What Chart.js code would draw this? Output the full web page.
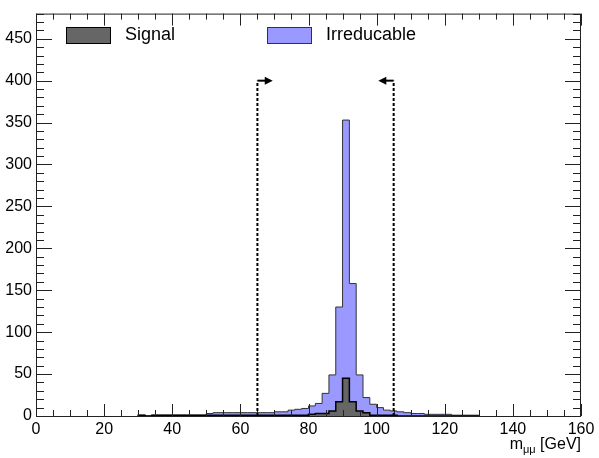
<!DOCTYPE html>
<html>
<head>
<meta charset="utf-8">
<script src="https://cdn.jsdelivr.net/npm/chart.js@4"></script>
<style>
  html, body { margin: 0; padding: 0; background: #fff; }
</style>
</head>
<body>
<canvas id="mass-chart" width="599" height="458"></canvas>
<script>
// Histogram binning: 2 GeV bins from 30 to 130 GeV
const binStart = 30;
const binWidth = 2;

// Counts per bin
const signalCounts = [
  1, 0, 1, 1, 1, 1, 1, 1, 1, 1,
  1, 1, 1, 1, 1, 1, 1, 1, 1, 1,
  1, 1, 1, 1, 1, 2, 3, 3, 6, 17,
  45, 17, 6, 4, 1, 1, 1, 1, 0, 0,
  0, 0, 0, 0, 0, 0, 0, 0, 0, 0
];
const irreducibleCounts = [
  1, 0, 1, 1, 1, 1, 1, 1, 1, 1,
  3, 4, 4, 4, 4, 4, 4, 4, 4, 4,
  5, 5, 7, 8, 9, 12, 15, 27, 49, 130,
  353, 158, 49, 22, 14, 10, 7, 6, 5, 4,
  3, 3, 2, 2, 2, 2, 1, 1, 1, 1
];

const seriesLabels = ['Signal', 'Irreducable'];
const seriesColors = ['#666666', '#9999ff'];

// Axis ticks
const xTicks = [0, 20, 40, 60, 80, 100, 120, 140, 160];
const yTicks = [0, 50, 100, 150, 200, 250, 300, 350, 400, 450];
const xMinorStep = 5;
const yMinorStep = 10;

// Mass window cuts (GeV) and arrow height
const cutValues = [65, 105];
const cutHeight = 400;
const arrowLength = 4.5;

// Turn bin counts into step points for a stepped line
function toSteps(counts) {
  const pts = [{ x: binStart, y: 0 }];
  counts.forEach((c, i) => pts.push({ x: binStart + i * binWidth, y: c }));
  pts.push({ x: binStart + counts.length * binWidth, y: 0 });
  return pts;
}

const FONT = 'Liberation Sans, Arial, Helvetica, sans-serif';

// ROOT style frame, inner ticks, cut arrows, legend and axis title
const rootFrame = {
  id: 'rootFrame',
  afterDraw(chart) {
    const { ctx, chartArea: a, scales: { x, y } } = chart;
    ctx.save();

    // frame
    ctx.strokeStyle = '#222';
    ctx.lineWidth = 1;
    ctx.strokeRect(a.left + 0.5, a.top + 0.5, a.right - a.left - 1, a.bottom - a.top);

    // x ticks on bottom and top
    ctx.beginPath();
    for (let v = x.min; v <= x.max; v += xMinorStep) {
      const px = Math.round(x.getPixelForValue(v)) + 0.5;
      const len = xTicks.includes(v) ? 12 : 6;
      ctx.moveTo(px, a.bottom); ctx.lineTo(px, a.bottom - len);
      ctx.moveTo(px, a.top); ctx.lineTo(px, a.top + len);
    }
    // y ticks on left and right
    for (let v = 0; v <= y.max; v += yMinorStep) {
      const py = Math.round(y.getPixelForValue(v)) + 0.5;
      const len = yTicks.includes(v) ? 16 : 8;
      ctx.moveTo(a.left, py); ctx.lineTo(a.left + len, py);
      ctx.moveTo(a.right, py); ctx.lineTo(a.right - len, py);
    }
    ctx.stroke();

    // cut lines with arrows
    ctx.strokeStyle = '#000';
    ctx.fillStyle = '#000';
    cutValues.forEach((c, i) => {
      const px = x.getPixelForValue(c);
      const top = y.getPixelForValue(cutHeight);
      ctx.lineWidth = 2;
      ctx.setLineDash([3, 2]);
      ctx.beginPath();
      ctx.moveTo(px, y.getPixelForValue(0));
      ctx.lineTo(px, top);
      ctx.stroke();
      ctx.setLineDash([]);
      const dir = i === 0 ? 1 : -1;
      const tip = x.getPixelForValue(c + dir * arrowLength);
      ctx.beginPath();
      ctx.moveTo(px, top);
      ctx.lineTo(tip - dir * 7, top);
      ctx.stroke();
      ctx.beginPath();
      ctx.moveTo(tip, top);
      ctx.lineTo(tip - dir * 8, top - 4);
      ctx.lineTo(tip - dir * 8, top + 4);
      ctx.closePath();
      ctx.fill();
    });

    // legend
    const legendItems = [
      { box: 66, text: 125 },
      { box: 267, text: 326 }
    ];
    ctx.font = '18px ' + FONT;
    ctx.textBaseline = 'middle';
    ctx.textAlign = 'left';
    legendItems.forEach((it, i) => {
      ctx.fillStyle = seriesColors[i];
      ctx.fillRect(it.box, 27, 44, 16);
      ctx.lineWidth = 1;
      ctx.strokeStyle = i === 0 ? '#000' : '#333';
      ctx.strokeRect(it.box + 0.5, 27.5, 44, 16);
      ctx.fillStyle = '#000';
      ctx.fillText(seriesLabels[i], it.text, 35);
    });

    // x axis title: m_{mu mu} [GeV]
    ctx.textBaseline = 'alphabetic';
    ctx.textAlign = 'left';
    const main = '16px ' + FONT, sub = '11px ' + FONT;
    ctx.font = main;
    const wm = ctx.measureText('m').width;
    const wg = ctx.measureText(' [GeV]').width;
    ctx.font = sub;
    const ws = ctx.measureText('\u03bc\u03bc').width;
    let tx = a.right - (wm + ws + wg);
    ctx.fillStyle = '#000';
    ctx.font = main;
    ctx.fillText('m', tx, 449);
    ctx.font = sub;
    ctx.fillText('\u03bc\u03bc', tx + wm, 453);
    ctx.font = main;
    ctx.fillText(' [GeV]', tx + wm + ws, 449);

    ctx.restore();
  }
};

const ctx = document.getElementById('mass-chart').getContext('2d');
const massChart = new Chart(ctx, {
  type: 'line',
  data: {
    datasets: [
      {
        label: seriesLabels[0],
        data: toSteps(signalCounts),
        stepped: true,
        fill: 'origin',
        backgroundColor: seriesColors[0],
        borderColor: '#000',
        borderWidth: 1.5,
        pointRadius: 0
      },
      {
        label: seriesLabels[1],
        data: toSteps(irreducibleCounts),
        stepped: true,
        fill: 'origin',
        backgroundColor: seriesColors[1],
        borderColor: '#333',
        borderWidth: 1,
        pointRadius: 0
      }
    ]
  },
  options: {
    responsive: false,
    animation: false,
    devicePixelRatio: 1,
    layout: { padding: { top: 9, right: 18, left: 0, bottom: 0 } },
    plugins: {
      legend: { display: false },
      tooltip: { enabled: false }
    },
    scales: {
      x: {
        type: 'linear',
        min: 0,
        max: 160,
        grid: { display: false, drawTicks: false },
        border: { display: false },
        ticks: {
          stepSize: 20,
          padding: 4,
          color: '#000',
          font: { family: FONT, size: 16 },
          maxRotation: 0,
          autoSkip: false,
          callback: v => xTicks.includes(v) ? v : null
        },
        afterFit: s => { s.height = 42; }
      },
      y: {
        min: 0,
        max: 480,
        grid: { display: false, drawTicks: false },
        border: { display: false },
        ticks: {
          stepSize: 50,
          padding: 4,
          color: '#000',
          font: { family: FONT, size: 16 },
          autoSkip: false,
          callback: v => yTicks.includes(v) ? v : null
        },
        afterFit: s => { s.width = 36; }
      }
    }
  },
  plugins: [rootFrame]
});
</script>
</body>
</html>
